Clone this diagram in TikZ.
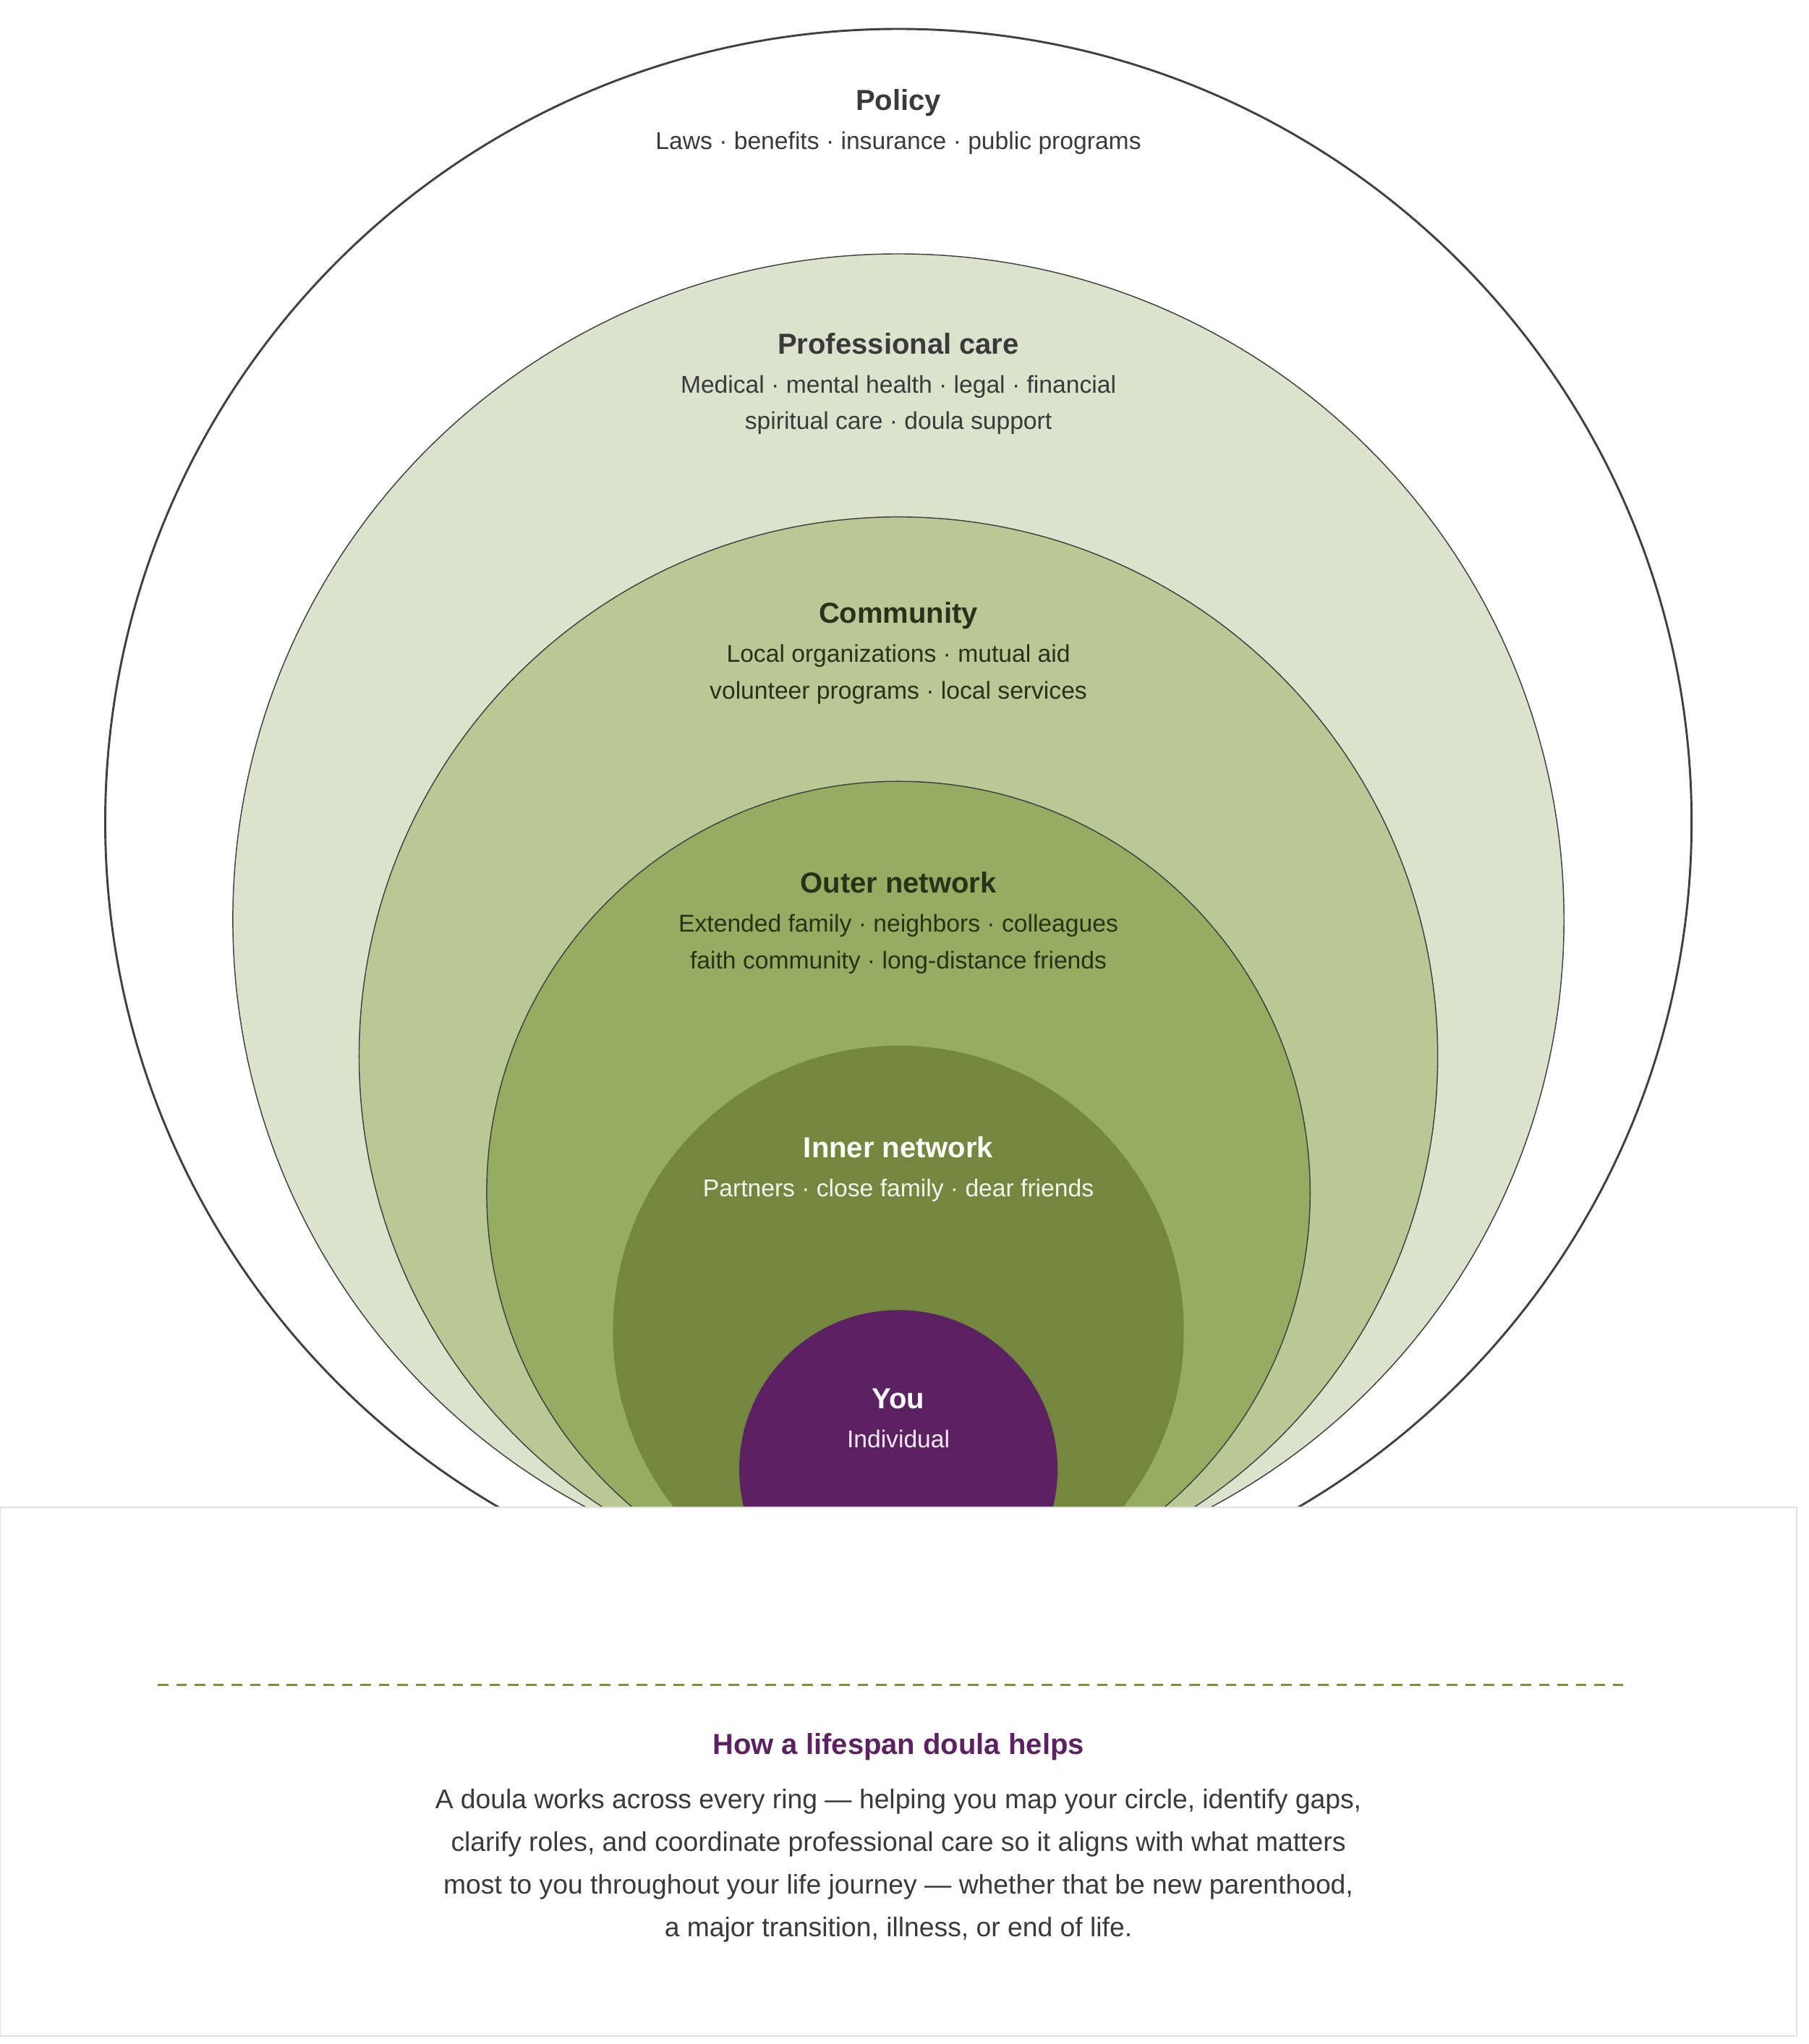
\documentclass[tikz,border=0pt]{standalone}
\usepackage{fontspec}
\setmainfont{Liberation Sans}
\begin{document}
\begin{tikzpicture}[x=1pt,y=-1pt,
 ring/.style={draw=black!75,line width=0.8pt},
 head/.style={font=\fontsize{22}{26}\selectfont\bfseries,anchor=base},
 sub/.style={font=\fontsize{18.5}{28}\selectfont,anchor=north,inner sep=0pt,align=center}]
\definecolor{prof}{HTML}{DCE3CD}\definecolor{comm}{HTML}{B8C996}
\definecolor{outr}{HTML}{95AD60}\definecolor{innr}{HTML}{73883E}
\definecolor{you}{HTML}{5C2160}\definecolor{txt}{HTML}{3A3A3A}
\definecolor{dtxt}{HTML}{26331A}\definecolor{olive}{HTML}{7D8F45}
\useasboundingbox (0,0) rectangle (1375,1554);
\fill[white] (0,0) rectangle (1375,1554);
\begin{scope}
\clip (-10,-10) rectangle (1385,1146);
\draw[line width=1.6pt,draw=black!75] (683,625) circle (603);
\draw[ring,fill=prof] (683,699) circle (506);
\draw[ring,fill=comm] (683,803) circle (410);
\draw[ring,fill=outr] (683,907) circle (313);
\fill[innr] (683,1012) circle (217);
\fill[you] (683,1117) circle (121);
\end{scope}
\node[head,text=txt] (hpol) at (683,84) {Policy};
\node[sub,text=txt] (spol) at (683,100) {Laws · benefits · insurance · public programs};
\node[head,text=txt] (hpro) at (683,269) {Professional care};
\node[sub,text=txt] (spro) at (683,285) {Medical · mental health · legal · financial\\spiritual care · doula support};
\node[head,text=dtxt] (hcom) at (683,474) {Community};
\node[sub,text=dtxt] (scom) at (683,490) {Local organizations · mutual aid\\volunteer programs · local services};
\node[head,text=dtxt] (hout) at (683,679) {Outer network};
\node[sub,text=dtxt] (sout) at (683,695) {Extended family · neighbors · colleagues\\faith community · long-distance friends};
\node[head,text=white] (hin) at (683,880) {Inner network};
\node[sub,text=white!92!innr] (sin) at (683,896) {Partners · close family · dear friends};
\node[head,text=white] (hyou) at (683,1071) {You};
\node[sub,text=white!90!you] (syou) at (683,1087) {Individual};
\draw[black!12,line width=1pt,fill=white] (0,1146) rectangle (1366,1548);
\draw[olive,dash pattern=on 8pt off 6pt,line width=1.2pt] (120,1281) -- (1240,1281);
\node[head,text=you] (ht) at (683,1334) {How a lifespan doula helps};
\node[font=\fontsize{20.5}{32.5}\selectfont,anchor=north,inner sep=0pt,align=center,text=txt] (body) at (683,1360)
 {A doula works across every ring — helping you map your circle, identify gaps,\\clarify roles, and coordinate professional care so it aligns with what matters\\most to you throughout your life journey — whether that be new parenthood,\\a major transition, illness, or end of life.};
\end{tikzpicture}
\end{document}
